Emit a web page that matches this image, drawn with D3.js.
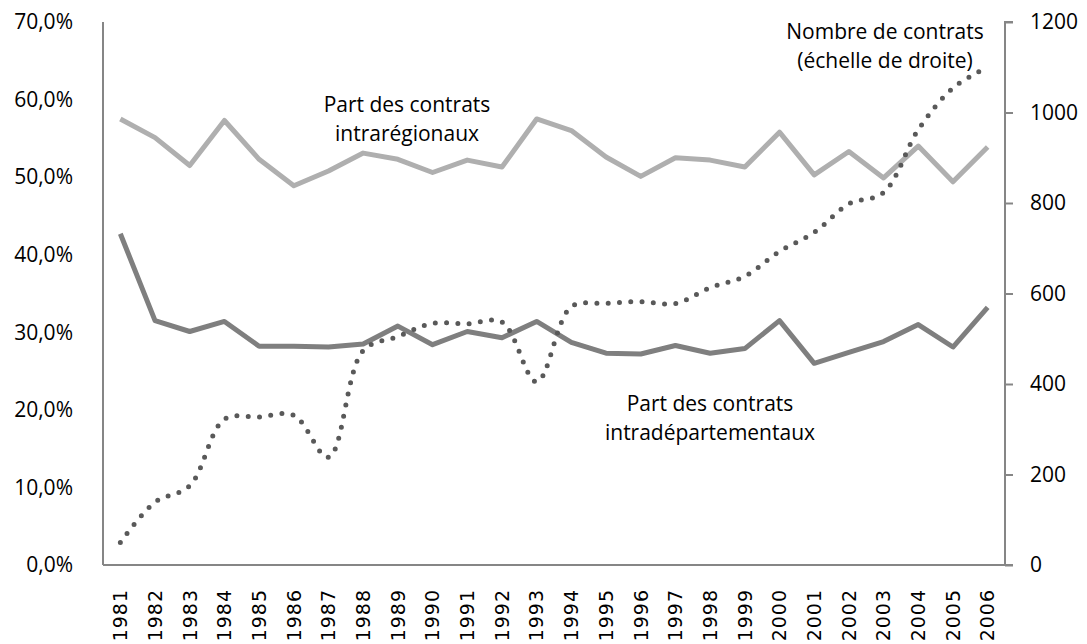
<!DOCTYPE html>
<html>
<head>
<meta charset="utf-8">
<script src="https://cdn.jsdelivr.net/npm/d3@7"></script>
<style>
  body { margin: 0; background: #fff; }
  svg { display: block; }
  .lbl { font-family: "Open Sans", sans-serif; font-size: 21px; fill: #000; }
  .year text { font-family: "DejaVu Sans", sans-serif; font-size: 19px; letter-spacing: 1px; fill: #000; }
</style>
</head>
<body>
<svg width="1087" height="644"></svg>
<script>
//data
var years = ["1981", "1982", "1983", "1984", "1985", "1986", "1987", "1988", "1989", "1990",
    "1991", "1992", "1993", "1994", "1995", "1996", "1997", "1998", "1999", "2000",
    "2001", "2002", "2003", "2004", "2005", "2006"];

//part des contrats intrarégionaux (%)
var intraRegion = [57.5, 55.1, 51.5, 57.3, 52.3, 48.9, 50.8, 53.1, 52.3, 50.6,
    52.2, 51.3, 57.5, 56.0, 52.6, 50.1, 52.5, 52.2, 51.3, 55.8,
    50.3, 53.3, 49.9, 54.0, 49.4, 53.9];

//part des contrats intradépartementaux (%)
var intraDept = [42.7, 31.5, 30.1, 31.4, 28.2, 28.2, 28.1, 28.5, 30.8, 28.4,
    30.1, 29.3, 31.4, 28.7, 27.3, 27.2, 28.3, 27.3, 27.9, 31.5,
    26.0, 27.4, 28.8, 31.0, 28.1, 33.2];

//nombre de contrats (échelle de droite)
var nbContrats = [50, 139, 175, 322, 327, 331, 238, 474, 505, 534,
    533, 537, 405, 571, 578, 582, 578, 613, 638, 693,
    735, 798, 823, 962, 1054, 1100];

var leftTicks = [0, 10, 20, 30, 40, 50, 60, 70];
var rightTicks = [0, 200, 400, 600, 800, 1000, 1200];

//sizes
var svg = d3.select("svg"),
    plotLeft = 103,
    plotRight = 1005,
    plotTop = 22,
    plotBottom = 565;

//scales
var scaleX = d3.scaleBand().domain(years).range([plotLeft, plotRight]);
var scaleY = d3.scaleLinear().domain([0, 70]).range([plotBottom, plotTop]);
var scaleY2 = d3.scaleLinear().domain([0, 1200]).range([plotBottom, plotTop]);
var cx = function (i) { return scaleX(years[i]) + scaleX.bandwidth() / 2; };

var fmtPct = function (d) { return d3.format(".1f")(d).replace(".", ",") + "%"; };

//axes
var gLeft = svg.append("g")
    .attr("transform", "translate(" + plotLeft + ",0)")
    .call(d3.axisLeft(scaleY).tickValues(leftTicks).tickSize(0).tickPadding(30).tickFormat(fmtPct));
gLeft.selectAll("text").attr("class", "lbl");

var gRight = svg.append("g")
    .attr("transform", "translate(" + plotRight + ",0)")
    .call(d3.axisRight(scaleY2).tickValues(rightTicks).tickSize(8).tickPadding(17).tickFormat(d3.format("d")));
gRight.selectAll("text").attr("class", "lbl");

var gBottom = svg.append("g")
    .attr("class", "year")
    .attr("transform", "translate(0," + plotBottom + ")")
    .call(d3.axisBottom(scaleX).tickSize(0));
gBottom.selectAll("text")
    .attr("transform", "rotate(-90)")
    .attr("text-anchor", "end")
    .attr("x", -24)
    .attr("y", 0)
    .attr("dy", "0.36em");
[gLeft, gRight, gBottom].forEach(function (g) {
    g.attr("font-family", null).attr("font-size", null);
});

//axis look
svg.selectAll(".domain, .tick line")
    .attr("stroke", "#868686")
    .attr("stroke-width", 2);
gRight.select(".domain").attr("d", "M8," + plotTop + "H0V" + plotBottom + "H8");
gLeft.select(".domain").attr("d", "M0," + plotTop + "V" + plotBottom);
gBottom.select(".domain").attr("d", "M" + plotLeft + ",0H" + (plotRight + 8));

//lines
var lineLeft = d3.line()
    .x(function (d, i) { return cx(i); })
    .y(function (d) { return scaleY(d); });

var lineRight = d3.line()
    .x(function (d, i) { return cx(i); })
    .y(function (d) { return scaleY2(d); })
    .curve(d3.curveCatmullRom.alpha(0.5));

svg.append("path")
    .attr("d", lineLeft(intraRegion))
    .attr("fill", "none")
    .attr("stroke", "#afafaf")
    .attr("stroke-width", 5)
    .attr("stroke-linejoin", "round");

svg.append("path")
    .attr("d", lineLeft(intraDept))
    .attr("fill", "none")
    .attr("stroke", "#7f7f7f")
    .attr("stroke-width", 5)
    .attr("stroke-linejoin", "round");

svg.append("path")
    .attr("d", lineRight(nbContrats))
    .attr("fill", "none")
    .attr("stroke", "#595959")
    .attr("stroke-width", 5)
    .attr("stroke-linecap", "round")
    .attr("stroke-dasharray", "0,11.3");

//annotations
function note(x, y, lines) {
    var t = svg.append("text")
        .attr("class", "lbl")
        .attr("text-anchor", "middle");
    lines.forEach(function (s, i) {
        t.append("tspan").attr("x", x).attr("y", y + i * 29).text(s);
    });
}
note(407, 112, ["Part des contrats", "intrarégionaux"]);
note(710, 411, ["Part des contrats", "intradépartementaux"]);
note(885, 39, ["Nombre de contrats", "(échelle de droite)"]);
</script>
</body>
</html>
